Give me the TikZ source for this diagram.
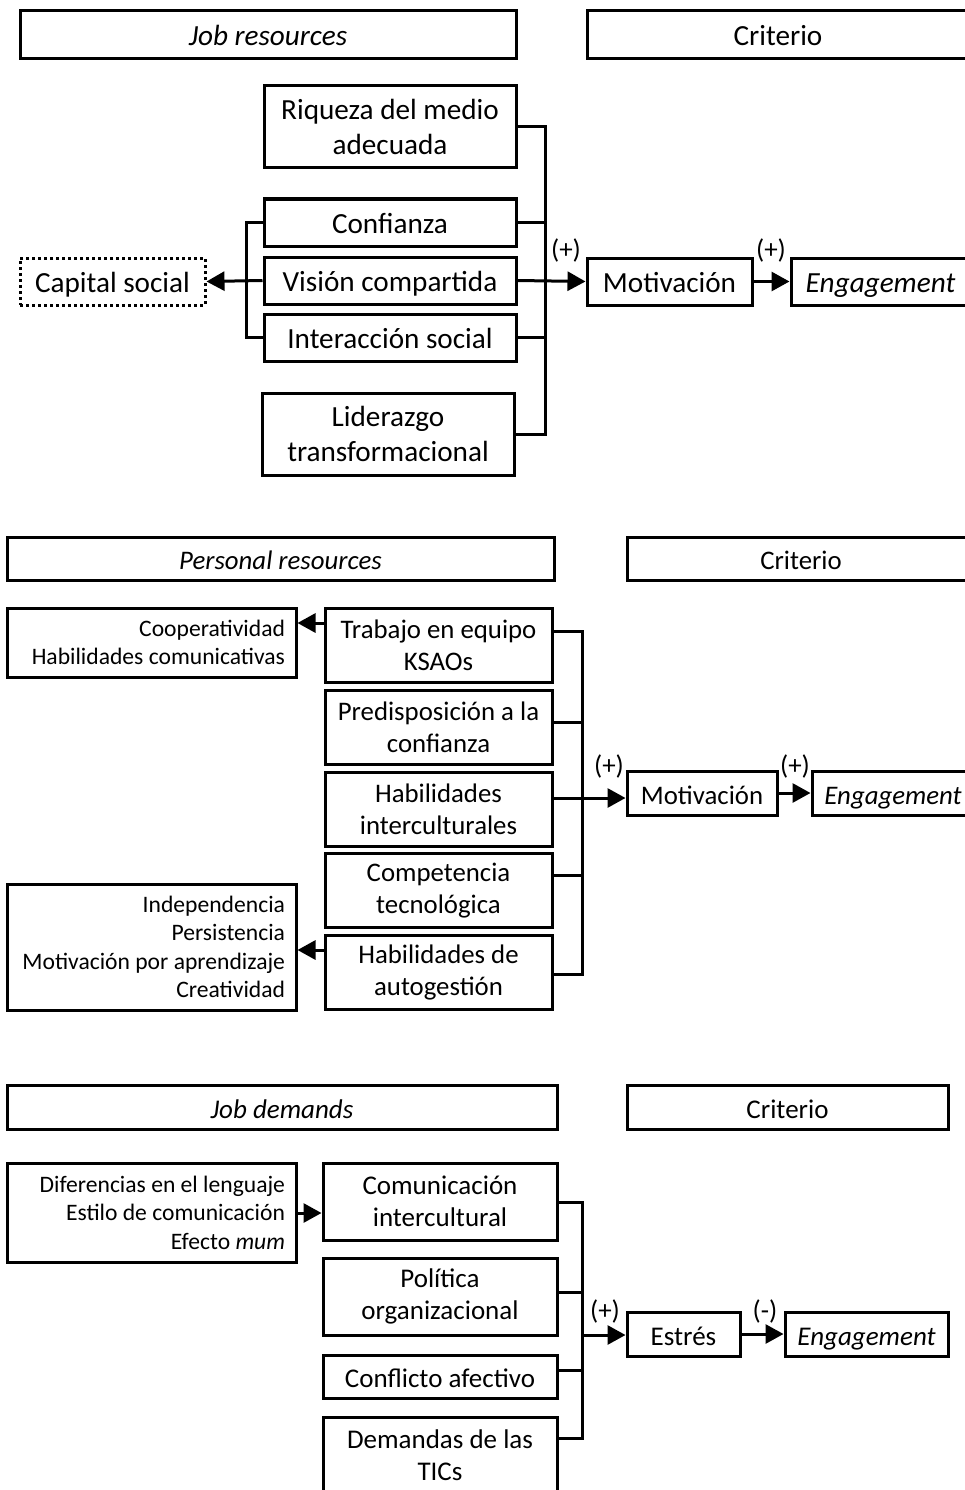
\documentclass[tikz,border=0pt]{standalone}
\usepackage{fontspec}
\setmainfont{Carlito}
\usetikzlibrary{arrows.meta}
\begin{document}
\begin{tikzpicture}[x=1pt,y=-1pt,
  box/.style={draw, line width=3pt, inner sep=2pt, align=center},
  one/.style={text height=24pt, text depth=2pt},
  rbox/.style={draw, line width=3pt, inner xsep=11pt, align=flush right},
  wire/.style={line width=3pt},
  arr/.style={line width=3pt, -{Triangle[length=18pt,width=19pt]}},
  fa/.style={font=\fontsize{29.2}{35}\selectfont},
  fb/.style={font=\fontsize{26.8}{32}\selectfont},
  fc/.style={font=\fontsize{27}{32}\selectfont},
  fs/.style={font=\fontsize{23.6}{28.5}\selectfont},
  sign/.style={font=\fontsize{27}{30}\selectfont, inner sep=0pt}]
\useasboundingbox (0,0) rectangle (964,1490);

% ---------- Job resources ----------
\node[box, one, fa, minimum width=496pt, minimum height=48pt] (jr) at (268,35) {\itshape Job resources};
\node[box, one, fa, minimum width=382pt, minimum height=48pt] (cr1) at (778,35) {Criterio};

\node[box, fa, minimum width=252pt, minimum height=82pt] (riq) at (390,127) {Riqueza del medio\\adecuada};
\node[box, one, fa, minimum width=252pt, minimum height=47pt] (conf) at (390,222.5) {Confianza};
\node[box, one, fa, minimum width=252pt, minimum height=47pt] (vis) at (390,280.5) {Visión compartida};
\node[box, one, fa, minimum width=252pt, minimum height=47pt] (inter) at (390,337.5) {Interacción social};
\node[box, fa, minimum width=252pt, minimum height=82pt] (lid) at (388,434) {Liderazgo\\transformacional};
\node[box, one, fa, dash pattern=on 3pt off 3pt, minimum width=185pt, minimum height=47pt] (cap) at (112.5,281.5) {Capital social};
\node[box, one, fa, minimum width=165pt, minimum height=47pt] (mot1) at (669.5,281.5) {Motivación};
\node[box, one, fa, minimum width=179pt, minimum height=47pt] (eng1) at (880.5,281.5) {\itshape Engagement};

\coordinate (rb1) at (545,0);
\coordinate (lb1) at (246,0);
\draw[wire] (riq.east) -- (riq.east -| rb1) -- (lid.east -| rb1) -- (lid.east);
\draw[wire] (conf.east) -- (conf.east -| rb1);
\draw[wire] (inter.east) -- (inter.east -| rb1);
\draw[arr] (vis.east) -- (mot1.west);
\draw[arr] (mot1.east) -- (eng1.west);
\draw[wire] (conf.west) -- (conf.west -| lb1) -- (inter.west -| lb1) -- (inter.west);
\draw[arr] (vis.west) -- (cap.east);
\node[sign] (p1a) at (566,250) {(+)};
\node[sign] (p1b) at (771,250) {(+)};

% ---------- Personal resources ----------
\node[box, one, fb, minimum width=547pt, minimum height=43pt] (pr) at (280.5,558.5) {\itshape Personal resources};
\node[box, one, fb, minimum width=348pt, minimum height=43pt] (cr2) at (801,558.5) {Criterio};

\node[box, fb, minimum width=227pt, minimum height=74pt] (tra) at (438.5,645) {Trabajo en equipo\\KSAOs};
\node[box, fb, minimum width=227pt, minimum height=74pt] (pre) at (438.5,727) {Predisposición a la\\confianza};
\node[box, fb, minimum width=227pt, minimum height=74pt] (hab) at (438.5,809) {Habilidades\\interculturales};
\node[box, fb, minimum width=227pt, minimum height=74pt] (comp) at (438.5,890.5) {Competencia\\tecnológica};
\node[box, fb, minimum width=227pt, minimum height=74pt] (auto) at (438.5,972.5) {Habilidades de\\autogestión};
\node[rbox, fs, text width=267pt, minimum height=69pt] (coop) at (151.5,642.5) {Cooperatividad\\Habilidades comunicativas};
\node[rbox, fs, text width=267pt, minimum height=126pt] (indep) at (151.5,947) {Independencia\\Persistencia\\Motivación por aprendizaje\\Creatividad};
\node[box, one, fb, minimum width=150pt, minimum height=44pt] (mot2) at (702,793) {Motivación};
\node[box, one, fb, minimum width=162pt, minimum height=44pt] (eng2) at (893,793) {\itshape Engagement};

\coordinate (s21) at (582,631);
\coordinate (s22) at (582,722);
\coordinate (s23) at (582,798);
\coordinate (s24) at (582,875);
\coordinate (s25) at (582,974);
\draw[wire] (s21 -| tra.east) -- (s21) -- (s25) -- (s25 -| auto.east);
\draw[wire] (s22 -| pre.east) -- (s22);
\draw[wire] (s24 -| comp.east) -- (s24);
\draw[arr] (s23 -| hab.east) -- (s23 -| mot2.west);
\draw[arr] (mot2.east) -- (eng2.west);
\coordinate (l21) at (0,623);
\coordinate (l22) at (0,950);
\draw[arr] (l21 -| tra.west) -- (l21 -| coop.east);
\draw[arr] (l22 -| auto.west) -- (l22 -| indep.east);
\node[sign] (p2a) at (609,766) {(+)};
\node[sign] (p2b) at (795,766) {(+)};

% ---------- Job demands ----------
\node[box, one, fc, minimum width=550pt, minimum height=44pt] (jd) at (282,1107) {\itshape Job demands};
\node[box, one, fc, minimum width=321pt, minimum height=44pt] (cr3) at (787.5,1107) {Criterio};

\node[rbox, fs, text width=267pt, minimum height=99pt] (dif) at (151.5,1212.5) {Diferencias en el lenguaje\\Estilo de comunicación\\Efecto \textit{mum}};
\node[box, fc, minimum width=234pt, minimum height=77pt] (com) at (440,1201.5) {Comunicación\\intercultural};
\node[box, fc, minimum width=234pt, minimum height=77pt] (pol) at (440,1296.5) {Política\\organizacional};
\node[box, one, fc, minimum width=234pt, minimum height=43pt] (cfa) at (440,1376.5) {Conflicto afectivo};
\node[box, fc, minimum width=234pt, minimum height=77pt] (dem) at (440,1455.5) {Demandas de las\\TICs};
\node[box, one, fc, minimum width=113pt, minimum height=44pt] (est) at (683.5,1334) {Estrés};
\node[box, one, fc, minimum width=163pt, minimum height=44pt] (eng3) at (866.5,1334) {\itshape Engagement};

\coordinate (s31) at (582,1202);
\coordinate (s32) at (582,1292);
\coordinate (s33) at (582,1370);
\coordinate (s34) at (582,1438);
\coordinate (s3a) at (582,1335);
\draw[wire] (s31 -| com.east) -- (s31) -- (s34) -- (s34 -| dem.east);
\draw[wire] (s32 -| pol.east) -- (s32);
\draw[wire] (s33 -| cfa.east) -- (s33);
\draw[arr] (s3a) -- (s3a -| est.west);
\draw[arr] (est.east) -- (eng3.west);
\coordinate (l31) at (0,1213);
\draw[arr] (l31 -| dif.east) -- (l31 -| com.west);
\node[sign] (p3a) at (605,1311) {(+)};
\node[sign] (p3b) at (765,1311) {(-)};
\end{tikzpicture}
\end{document}
